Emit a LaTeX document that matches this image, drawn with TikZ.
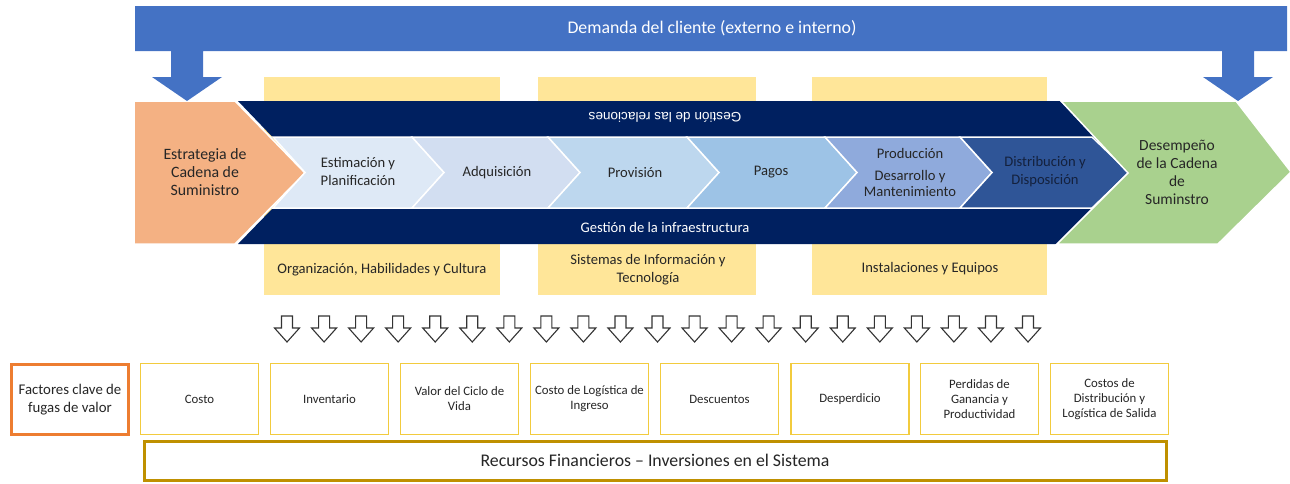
\documentclass[tikz,border=0pt]{standalone}
\usepackage{fontspec}
\setmainfont{Carlito}
\newfontfamily\arialfont{Liberation Sans}
\definecolor{banner}{HTML}{4472C4}
\definecolor{ylw}{HTML}{FFE699}
\definecolor{orng}{HTML}{F4B183}
\definecolor{grn}{HTML}{A9D18E}
\definecolor{navy}{HTML}{002060}
\definecolor{ca}{HTML}{DEE9F6}
\definecolor{cb}{HTML}{D2DEF1}
\definecolor{cc}{HTML}{BDD7EE}
\definecolor{cd}{HTML}{9DC3E6}
\definecolor{ce}{HTML}{8FAADC}
\definecolor{cf}{HTML}{2F5597}
\definecolor{txt}{HTML}{262626}
\definecolor{dtxt}{HTML}{14213D}
\definecolor{boxy}{HTML}{F2CB3E}
\definecolor{obrd}{HTML}{ED7D31}
\definecolor{gbrd}{HTML}{BF9000}
\tikzset{
  shp/.style={draw=white,line width=1.5pt},
  lbl/.style={text=txt,align=center,inner sep=0pt},
  fbox/.style={draw=boxy,line width=1.8pt,fill=white,text=txt,align=center,
    minimum width=118pt,minimum height=71pt,inner sep=2pt,
    font=\fontsize{12.8}{15}\selectfont},
  hollow/.pic={\draw[line width=1.1pt,fill=white,draw=black!80]
    (-5.5,0) -- (5.5,0) -- (5.5,12) -- (12.5,12) -- (0,26) -- (-12.5,12) -- (-5.5,12) -- cycle;}
}
\begin{document}
\begin{tikzpicture}[x=1pt,y=-1pt]
\useasboundingbox (0,0) rectangle (1290,483);
% yellow background boxes
\fill[ylw] (264,77) rectangle (500,295);
\fill[ylw] (538,77) rectangle (756,295);
\fill[ylw] (812,77) rectangle (1047,295);
% navy chevron
\fill[navy] (238,101) -- (1060,101) -- (1128,173) -- (1057,244) -- (238,244) -- (307,173) -- cycle;
% orange pentagon
\path[shp,fill=orng] (134,101) -- (235,101) -- (305,173) -- (235,244) -- (134,244) -- cycle;
% inner chevrons
\path[shp,fill=ca] (273,137) -- (412,137) -- (444,172.5) -- (412,208) -- (273,208) -- (305,172.5) -- cycle;
\path[shp,fill=cb] (412,137) -- (548,137) -- (580,172.5) -- (548,208) -- (412,208) -- (444,172.5) -- cycle;
\path[shp,fill=cc] (548,137) -- (687,137) -- (719,172.5) -- (687,208) -- (548,208) -- (580,172.5) -- cycle;
\path[shp,fill=cd] (687,137) -- (825,137) -- (857,172.5) -- (825,208) -- (687,208) -- (719,172.5) -- cycle;
\path[shp,fill=ce] (825,137) -- (960,137) -- (992,172.5) -- (960,208) -- (825,208) -- (857,172.5) -- cycle;
\path[shp,fill=cf] (960,137) -- (1092,137) -- (1129,172.5) -- (1092,208) -- (960,208) -- (992,172.5) -- cycle;
% green pentagon
\path[shp,fill=grn] (1061,101) -- (1236,101) -- (1291,172) -- (1218,244) -- (1057,244) -- (1128,173) -- cycle;
% banner with arrows
\fill[banner] (135,6) -- (1287,6) -- (1287,51) -- (1254,51) -- (1254,77) -- (1273,77) -- (1238,101) -- (1203,77) -- (1222,77) -- (1222,51)
  -- (203,51) -- (203,77) -- (222,77) -- (187,101) -- (152,77) -- (171,77) -- (171,51) -- (135,51) -- cycle;
\node[lbl,text=white,font=\fontsize{17.8}{20}\selectfont] (demanda) at (712,28) {Demanda del cliente (externo e interno)};
% texts
\node[lbl,font=\fontsize{15.8}{18}\selectfont] (estrategia) at (205,172) {Estrategia de\\Cadena de\\Suministro};
\node[lbl,font=\fontsize{15.5}{18}\selectfont] (desempeno) at (1177,172) {Desempeño\\de la Cadena\\de\\Suminstro};
\node[lbl,text=white,rotate=180,font=\arialfont\fontsize{13.6}{15}\selectfont] (relaciones) at (665,117) {Gestión de las relaciones};
\node[lbl,text=white,font=\fontsize{14.6}{17}\selectfont] (infra) at (665,227) {Gestión de la infraestructura};
\node[lbl,font=\fontsize{14.6}{18}\selectfont] (estim) at (358,172) {Estimación y\\Planificación};
\node[lbl,font=\fontsize{14.6}{18}\selectfont] (adq) at (497,173) {Adquisición};
\node[lbl,font=\fontsize{14.6}{18}\selectfont] (prov) at (635,173) {Provisión};
\node[lbl,font=\fontsize{14.6}{18}\selectfont] (pagos) at (771,172) {Pagos};
\node[lbl,font=\fontsize{14.6}{15.5}\selectfont] (prod) at (910,172) {Producción\\[7pt]Desarrollo y\\Mantenimiento};
\node[lbl,text=dtxt,font=\fontsize{14.6}{18}\selectfont] (dist) at (1045,172) {Distribución y\\Disposición};
\node[lbl,font=\fontsize{14.6}{18}\selectfont] (org) at (382,270) {Organización, Habilidades y Cultura};
\node[lbl,font=\fontsize{14.6}{18}\selectfont] (sist) at (648,270) {Sistemas de Información y\\Tecnología};
\node[lbl,font=\fontsize{14.6}{18}\selectfont] (inst) at (930,269) {Instalaciones y Equipos};
% hollow arrows
\foreach \i in {0,...,20} \pic at ({287+37.05*\i},316) {hollow};
% factor boxes
\node[fbox,draw=obrd,line width=3pt,minimum width=117pt,minimum height=70pt,font=\fontsize{14.8}{18}\selectfont] (factores) at (70,399.5) {Factores clave de\\fugas de valor};
\node[fbox] (costo) at (199.5,399) {Costo};
\node[fbox] (inv) at (329.5,399) {Inventario};
\node[fbox] (valor) at (459.5,399) {Valor del Ciclo de\\Vida};
\node[fbox] (logi) at (589.5,399) {Costo de Logística de\\Ingreso};
\node[fbox] (desc) at (719.5,399) {Descuentos};
\node[fbox] (desp) at (850,399) {Desperdicio};
\node[fbox] (perd) at (979.5,399) {Perdidas de\\Ganancia y\\Productividad};
\node[fbox] (costos) at (1109.5,399) {Costos de\\Distribución y\\Logística de Salida};
\node[draw=gbrd,line width=3pt,fill=white,text=txt,minimum width=1022pt,minimum height=39pt,inner sep=0pt,font=\fontsize{17.8}{20}\selectfont] (recursos) at (655,460.5) {Recursos Financieros – Inversiones en el Sistema};
\end{tikzpicture}
\end{document}
